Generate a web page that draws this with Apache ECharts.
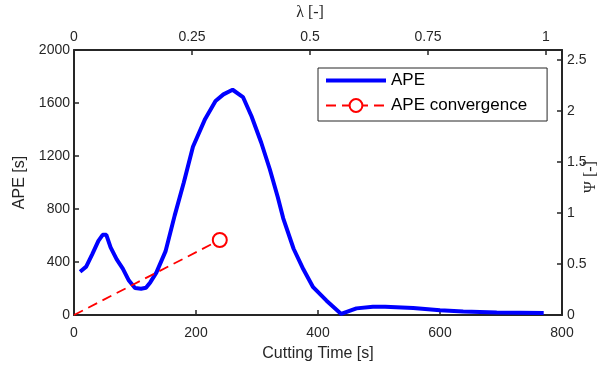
<!DOCTYPE html>
<html><head><meta charset="utf-8">
<script src="https://cdn.jsdelivr.net/npm/echarts@6/dist/echarts.min.js"></script>
<style>html,body{margin:0;padding:0;background:#fff}#c{width:612px;height:367px}</style>
</head><body><div id="c"></div>
<script>
// Cutting time [s] and APE [s]
const timeValues = [10, 20, 30, 40, 47, 53, 60, 70, 80, 90, 100, 110, 118, 125, 135, 150, 165, 180, 195, 215, 232, 245, 260, 277, 291, 307, 321, 334, 343, 360, 376, 392, 414, 438, 463, 490, 510, 556, 600, 638, 693, 770];
const apeValues  = [327, 365, 460, 560, 605, 605, 510, 420, 350, 260, 203, 198, 205, 246, 320, 480, 750, 1000, 1270, 1480, 1615, 1665, 1700, 1645, 1500, 1300, 1100, 890, 730, 500, 345, 210, 108, 8, 50, 62, 63, 52, 36, 26, 19, 15];
// APE convergence
const convTime = [0, 239];
const convApe = [0, 566];
// tick values
const bottomTicks = [0, 200, 400, 600, 800];
const leftTicks = [0, 400, 800, 1200, 1600, 2000];
const topTicks = [0, 0.25, 0.5, 0.75, 1];
const rightTicks = [0, 0.5, 1, 1.5, 2, 2.5];

const FONT = '"Liberation Sans", Arial, Helvetica, sans-serif';
const AX = '#262626';
const chart = echarts.init(document.getElementById('c'), null, {renderer: 'canvas'});
function lab(ticks) { return v => ticks.some(t => Math.abs(t - v) < 1e-9) ? String(v) : ''; }
const axisCommon = {
  axisLine: {show: true, onZero: false, lineStyle: {color: AX, width: 2}},
  axisTick: {show: true, inside: true, length: 5, lineStyle: {color: AX, width: 1.5}},
  splitLine: {show: false},
  axisLabel: {color: AX, fontFamily: FONT, fontSize: 14},
  nameTextStyle: {color: AX, fontFamily: FONT, fontSize: 16}
};
chart.setOption({
  animation: false,
  backgroundColor: '#fff',
  grid: {left: 74, right: 50, top: 50, bottom: 52, containLabel: false, outerBoundsMode: 'none'},
  xAxis: [
    Object.assign({}, axisCommon, {type: 'value', position: 'bottom', min: 0, max: 800, interval: 200,
      name: 'Cutting Time [s]', nameLocation: 'middle', nameGap: 31,
      axisLabel: Object.assign({}, axisCommon.axisLabel, {margin: 11, formatter: lab(bottomTicks)})}),
    Object.assign({}, axisCommon, {type: 'value', position: 'top', min: 0, max: 1.0339, interval: 0.25,
      axisLabel: Object.assign({}, axisCommon.axisLabel, {margin: 6, formatter: lab(topTicks)})})
  ],
  yAxis: [
    Object.assign({}, axisCommon, {type: 'value', position: 'left', min: 0, max: 2000, interval: 400,
      name: 'APE [s]', nameLocation: 'middle', nameGap: 40,
      axisLabel: Object.assign({}, axisCommon.axisLabel, {margin: 4, formatter: lab(leftTicks)})}),
    Object.assign({}, axisCommon, {type: 'value', position: 'right', min: 0, max: 2.6, interval: 0.5,
      axisLabel: Object.assign({}, axisCommon.axisLabel, {margin: 5, formatter: lab(rightTicks)})})
  ],
  graphic: [
    {type: 'text', x: 310, y: 13, style: {text: 'λ [-]', align: 'center', verticalAlign: 'middle', font: '16px "Liberation Serif", serif', fill: AX}},
    {type: 'text', x: 591, y: 177, rotation: Math.PI / 2, style: {text: 'Ψ [-]', align: 'center', verticalAlign: 'middle', font: '16px "Liberation Serif", serif', fill: AX}}
  ],
  legend: {
    orient: 'vertical', left: 318, top: 68,
    padding: [4, 20, 7, 6], itemGap: 8, itemWidth: 60, itemHeight: 16,
    borderColor: AX, borderWidth: 1, backgroundColor: '#fff',
    textStyle: {fontFamily: FONT, fontSize: 17, color: '#000'},
    data: [
      {name: 'APE', itemStyle: {opacity: 0}, lineStyle: {width: 4}},
      {name: 'APE convergence', lineStyle: {width: 2}}
    ]
  },
  series: [
    {name: 'APE', type: 'line', xAxisIndex: 0, yAxisIndex: 0,
     data: timeValues.map((t, i) => [t, apeValues[i]]),
     symbol: 'none', lineStyle: {color: '#0000ff', width: 4}, itemStyle: {color: '#0000ff'}},
    {name: 'APE convergence', type: 'line', xAxisIndex: 0, yAxisIndex: 0,
     data: convTime.map((t, i) => ({value: [t, convApe[i]], symbol: i === convTime.length - 1 ? 'emptyCircle' : 'none'})),
     symbol: 'emptyCircle', symbolSize: 14, showSymbol: true,
     lineStyle: {color: '#ff0000', width: 1.8, type: [10, 6]},
     itemStyle: {color: '#ff0000', borderColor: '#ff0000', borderWidth: 1.8}}
  ]
});
</script></body></html>
